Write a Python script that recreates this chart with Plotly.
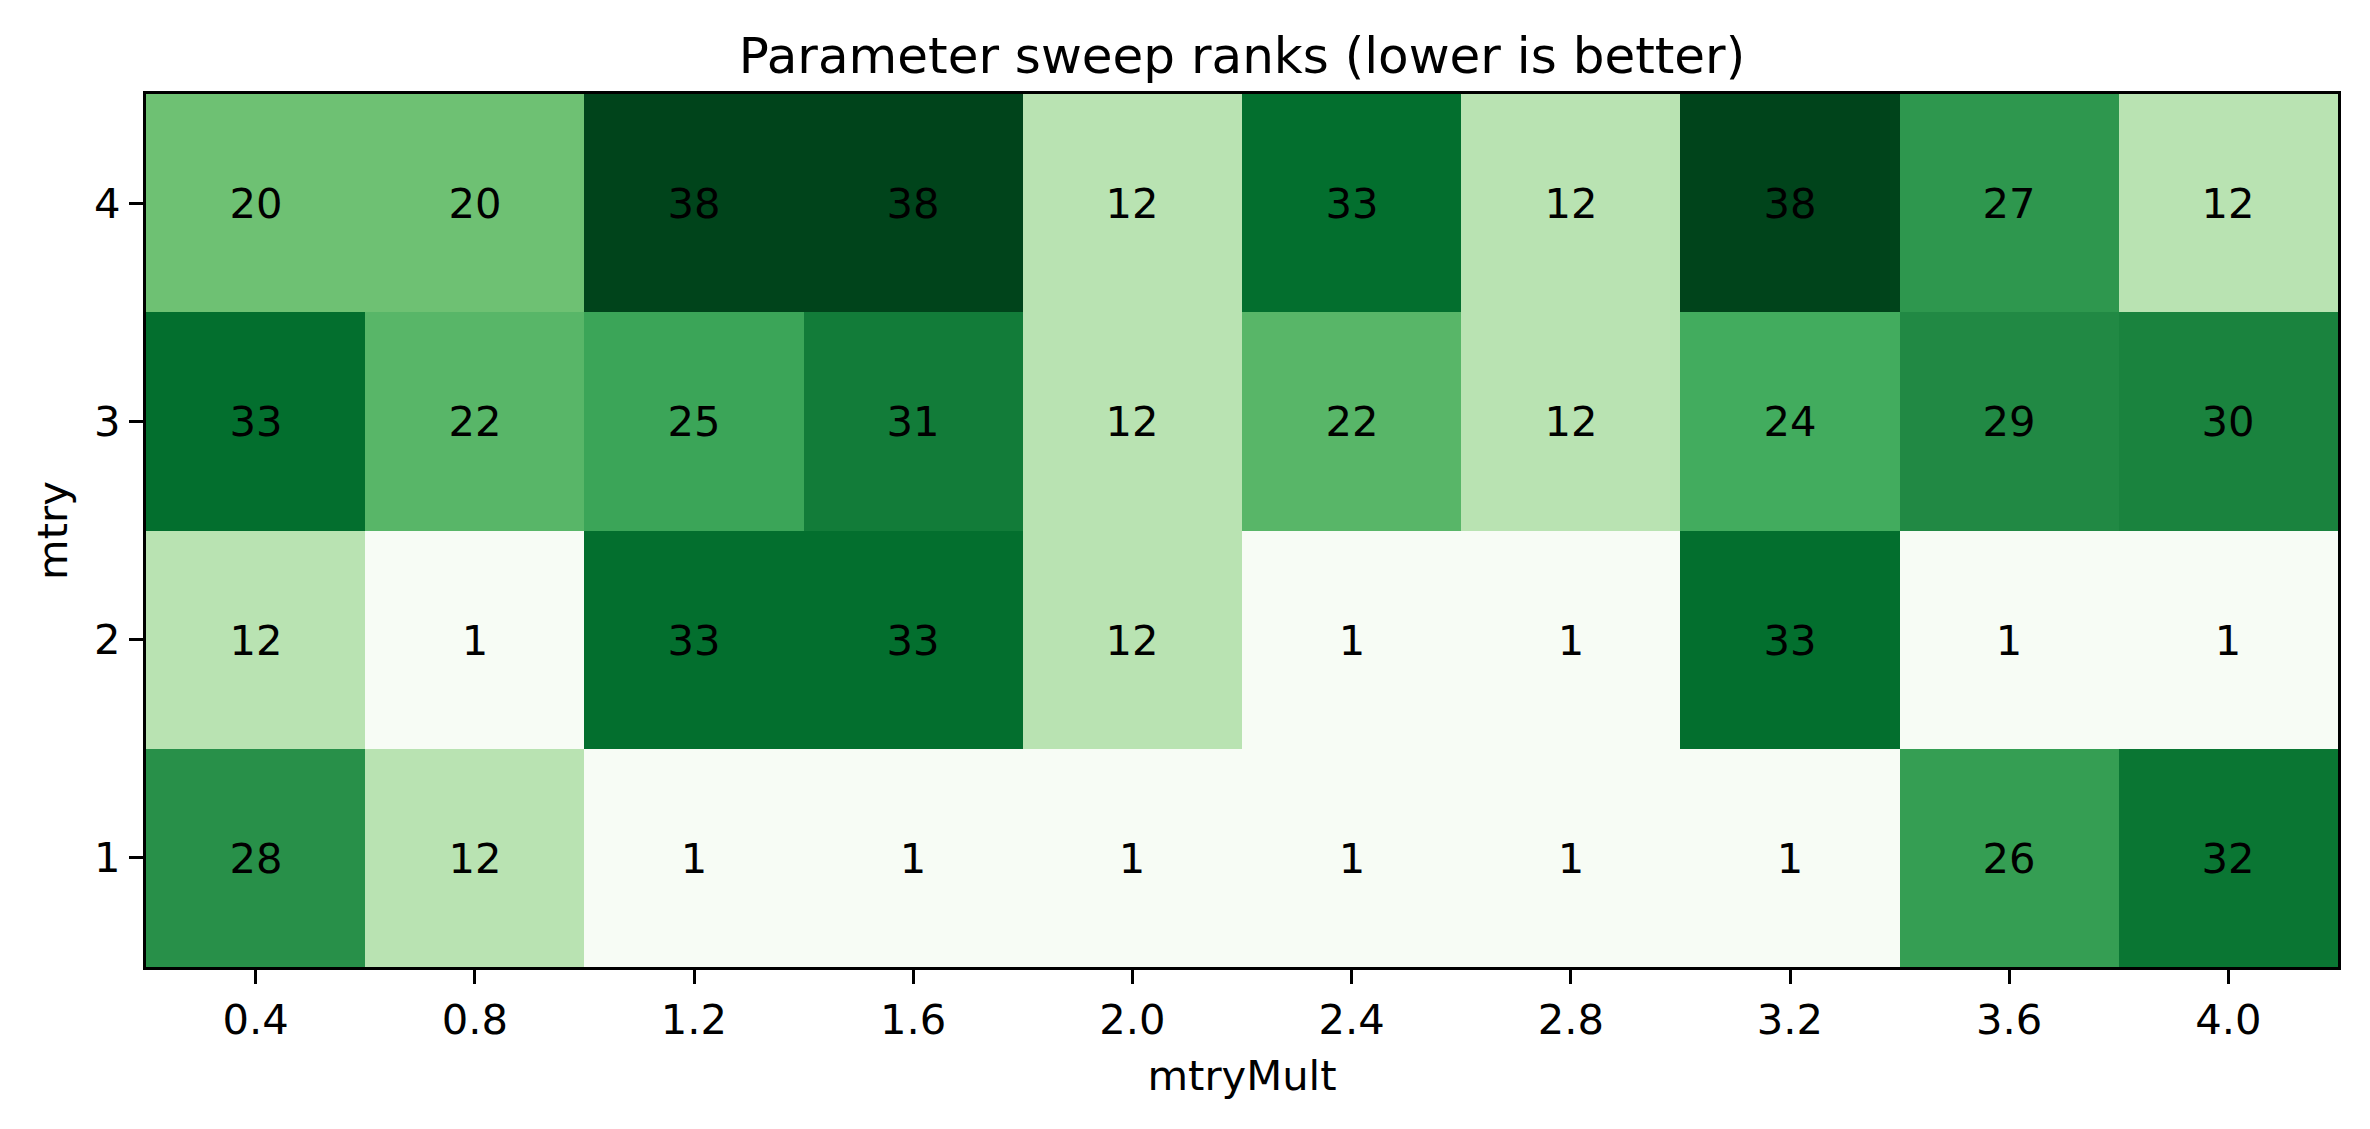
import plotly.graph_objects as go
import plotly.express as px

# parameter grid
mtry_mult = [0.4, 0.8, 1.2, 1.6, 2.0, 2.4, 2.8, 3.2, 3.6, 4.0]
mtry = [1, 2, 3, 4]

# ranks, one row per mtry value (bottom to top)
ranks_mtry1 = [28, 12, 1, 1, 1, 1, 1, 1, 26, 32]
ranks_mtry2 = [12, 1, 33, 33, 12, 1, 1, 33, 1, 1]
ranks_mtry3 = [33, 22, 25, 31, 12, 22, 12, 24, 29, 30]
ranks_mtry4 = [20, 20, 38, 38, 12, 33, 12, 38, 27, 12]

z = [ranks_mtry1, ranks_mtry2, ranks_mtry3, ranks_mtry4]

font_family = "DejaVu Sans"
fs = 41.7

fig = go.Figure(go.Heatmap(
    x=mtry_mult, y=mtry, z=z,
    colorscale=px.colors.sequential.Greens,
    showscale=False,
    texttemplate="%{z}",
    textfont=dict(size=fs, color="black", family=font_family),
    hoverinfo="skip",
))

axis_style = dict(
    showline=True, linecolor="black", linewidth=3.3, mirror=True,
    ticks="outside", ticklen=14, tickwidth=3.3, tickcolor="black",
    showgrid=False, zeroline=False,
    tickfont=dict(size=fs, color="black", family=font_family),
)

fig.update_xaxes(
    range=[0.2, 4.2], tickvals=mtry_mult, ticktext=["%.1f" % v for v in mtry_mult],
    title=dict(text="mtryMult", font=dict(size=fs, color="black", family=font_family), standoff=18),
    **axis_style)
fig.update_yaxes(
    range=[0.5, 4.5], tickvals=mtry, ticktext=[str(v) for v in mtry],
    title=dict(text="mtry", font=dict(size=fs, color="black", family=font_family), standoff=14),
    **axis_style)

fig.update_layout(
    width=2370, height=1129,
    margin=dict(l=138, r=40, t=86, b=170),
    paper_bgcolor="white", plot_bgcolor="white",
    title=dict(text="Parameter sweep ranks (lower is better)", x=0.5, xanchor="center",
               xref="paper", y=1 - 47 / 1129, yref="container", yanchor="middle",
               font=dict(size=50, color="black", family=font_family)),
)

fig.write_html("out.html")
